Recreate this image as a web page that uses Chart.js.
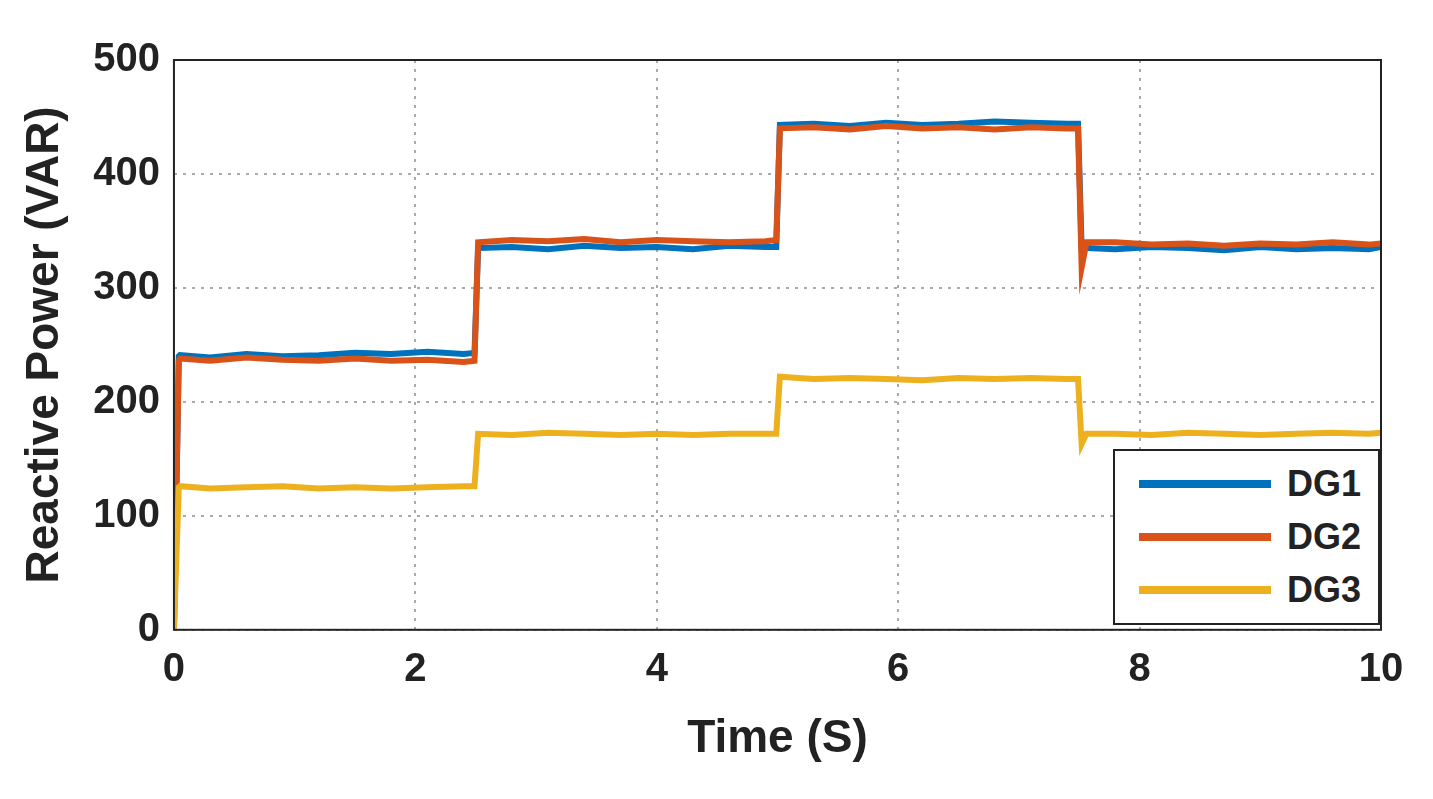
<!DOCTYPE html>
<html><head><meta charset="utf-8">
<script src="https://cdn.jsdelivr.net/npm/chart.js@4/dist/chart.umd.min.js"></script>
<style>
body{margin:0;background:#fff;width:1433px;height:799px;overflow:hidden;font-family:"Liberation Sans",Arial,sans-serif}
#wrap{position:relative;width:1433px;height:799px}
#leg{position:absolute;left:1113px;top:449px;width:267px;height:176px;border:2px solid #222;background:#fff;box-sizing:border-box;font-weight:bold;font-size:36px;color:#222}
.row{position:absolute;left:24px;display:flex;align-items:center}
.sw{width:132px;height:8px;margin-right:16px}
</style></head><body>
<div id="wrap"><canvas id="c" width="1433" height="799"></canvas>
<div id="leg">
<div class="row" style="top:12px"><div class="sw" style="background:#0072BD"></div>DG1</div>
<div class="row" style="top:65px"><div class="sw" style="background:#D95319"></div>DG2</div>
<div class="row" style="top:118px"><div class="sw" style="background:#EDB120"></div>DG3</div>
</div></div>
<script>
const times=[0,0.04,0.05,0.3,0.6,0.9,1.2,1.5,1.8,2.1,2.4,2.49,2.52,2.8,3.1,3.4,3.7,4.0,4.3,4.6,4.9,4.99,5.02,5.3,5.6,5.9,6.2,6.5,6.8,7.1,7.4,7.49,7.52,7.56,7.8,8.1,8.4,8.7,9.0,9.3,9.6,9.9,10];
const dg1=[0,240,241,239,242,240,241,243,242,244,242,243,335,336,334,337,335,336,334,337,336,336,443,444,442,445,443,444,446,445,444,444,335,335,334,336,335,333,336,334,335,334,336];
const dg2=[0,236,238,236,239,237,236,238,236,237,235,236,340,342,341,343,340,342,341,340,341,342,440,441,439,442,440,441,439,441,440,440,318,340,340,338,339,337,339,338,340,338,339];
const dg3=[0,125,126,124,125,126,124,125,124,125,126,126,172,171,173,172,171,172,171,172,172,172,222,220,221,220,219,221,220,221,220,220,163,172,172,171,173,172,171,172,173,172,173];
const xTicks=[0,2,4,6,8,10];
const yTicks=[0,100,200,300,400,500];
const pts=a=>a.map((v,i)=>({x:times[i],y:v}));
const border={id:'b',afterDatasetsDraw(c){const a=c.chartArea,x=c.ctx;x.save();x.strokeStyle='#222';x.lineWidth=2;x.strokeRect(a.left,a.top,a.right-a.left,a.bottom-a.top);x.restore();}};
const font={family:'"Liberation Sans",Arial',weight:'bold'};
new Chart(document.getElementById('c'),{type:'line',
data:{datasets:[
{label:'DG1',data:pts(dg1),borderColor:'#0072BD',borderWidth:6,pointRadius:0,order:2},
{label:'DG2',data:pts(dg2),borderColor:'#D95319',borderWidth:6,pointRadius:0,order:1},
{label:'DG3',data:pts(dg3),borderColor:'#EDB120',borderWidth:6,pointRadius:0,order:0}]},
options:{responsive:false,animation:false,events:[],
layout:{padding:{left:14,right:52,top:60,bottom:28}},
plugins:{legend:{display:false},tooltip:{enabled:false}},
scales:{
x:{type:'linear',min:0,max:10,afterBuildTicks:s=>{s.ticks=xTicks.map(v=>({value:v}))},
 grid:{color:'#aaa',lineWidth:2,drawTicks:false},border:{display:false,dash:[3,6]},
 ticks:{color:'#222',font:{...font,size:40},padding:16},
 title:{display:true,text:'Time (S)',color:'#222',font:{...font,size:46},padding:{top:2}}},
y:{min:0,max:500,afterBuildTicks:s=>{s.ticks=yTicks.map(v=>({value:v}))},
 grid:{color:'#aaa',lineWidth:2,drawTicks:false},border:{display:false,dash:[3,6]},
 ticks:{color:'#222',font:{...font,size:40},padding:14},
 title:{display:true,text:'Reactive Power (VAR)',color:'#222',font:{...font,size:46},padding:{bottom:6}}}}},
plugins:[border]});
</script></body></html>
